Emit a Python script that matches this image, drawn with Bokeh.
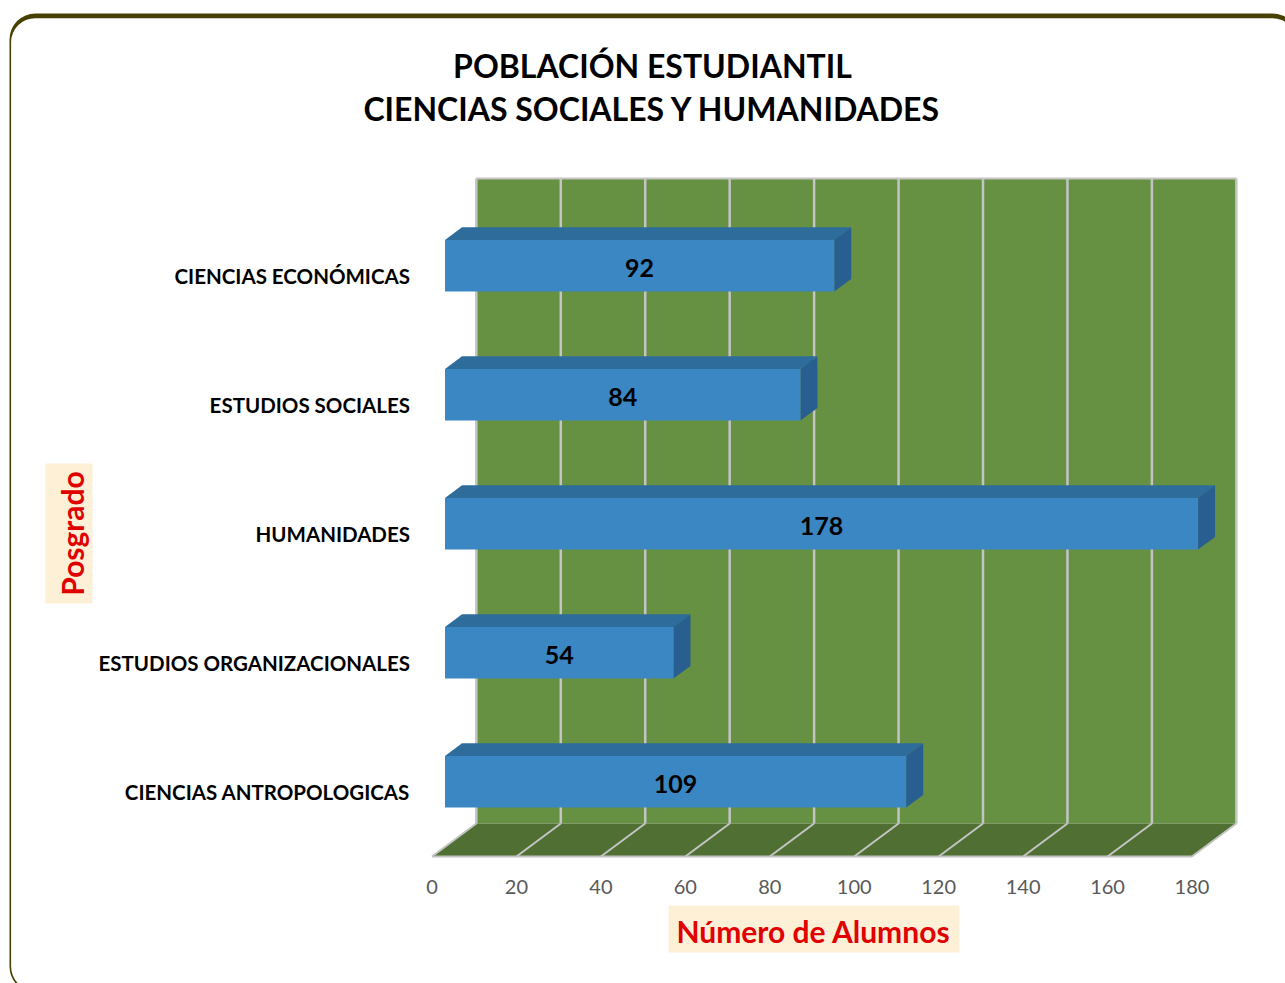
from bokeh.embed import file_html
from bokeh.resources import INLINE
from bokeh.plotting import figure
from bokeh.models import Range1d, FixedTicker, Label, BoxAnnotation, ColumnDataSource
from bokeh.core.properties import value
import math

# ---- data ----
categories = ["CIENCIAS ANTROPOLOGICAS", "ESTUDIOS ORGANIZACIONALES", "HUMANIDADES",
              "ESTUDIOS SOCIALES", "CIENCIAS ECONÓMICAS"]
alumnos = [109, 54, 178, 84, 92]
x_ticks = [0, 20, 40, 60, 80, 100, 120, 140, 160, 180]
title_lines = ["POBLACIÓN ESTUDIANTIL", "CIENCIAS SOCIALES Y HUMANIDADES"]
x_title = "Número de Alumnos"
y_title = "Posgrado"

# ---- 3-D projection (in data units) ----
X_MAX = 180
N = len(categories)
DEPTH_X = 10.5       # wall offset to the right, in value units
DEPTH_Y = 0.256      # wall offset upward, in category bands
BAR_X0 = 3.08        # bar front-left offset
BAR_DX = 4.03        # bar depth
BAR_DY = 0.097
BAR_FRONT = 0.08     # front face centre relative to band centre
BAR_HALF = 0.2
BAR_K = 1.002

FONT = "Lato"
WALL = "#669143"
FLOOR = "#4F6F33"
GRID = "#C4C4C4"
BAR_FACE = "#3A87C3"
BAR_TOP = "#2E6C9C"
BAR_SIDE = "#285F90"
RED = "#E00000"
CREAM = "#FDF0D6"
FRAME = "#484000"

W, H = 1285, 983
# the plot frame fills the canvas; value 0 sits at px 431.5, 180 at px 1191.5; band 0 at py 856, each band 129 px
ORIGIN_X = 431.5
PX_X = 760 / 180
PX_Y = 129
p = figure(width=W, height=H, output_backend="svg", toolbar_location=None,
           x_range=Range1d(-ORIGIN_X / PX_X, (W - ORIGIN_X) / PX_X), y_range=Range1d((856 - H) / PX_Y, 856 / PX_Y),
           min_border_left=0, min_border_right=0, min_border_top=0, min_border_bottom=0,
           background_fill_color="white", border_fill_color="white", outline_line_color=None)
p.grid.visible = False


def box(left, right, top, bottom, color, radius=0, level="underlay"):
    p.add_layout(BoxAnnotation(left=left, right=right, top=H - top, bottom=H - bottom,
                               left_units="screen", right_units="screen", top_units="screen", bottom_units="screen",
                               fill_color=color, fill_alpha=1, line_color=None, border_radius=radius, level=level))


def label(x, y, text, size, color, angle=0.0):
    p.add_layout(Label(x=x, y=H - y, x_units="screen", y_units="screen", text=text, text_font=FONT,
                       text_font_style="bold", text_font_size=size, text_color=color, angle=angle,
                       text_align="center", text_baseline="middle", level="overlay"))


# rounded frame of the slide
box(9, 1298, 13, 992, FRAME, 26)
box(10.6, 1296, 17.7, 990, "white", 24)

# axes
xa = p.xaxis[0]
xa.fixed_location = 0
xa.ticker = FixedTicker(ticks=x_ticks)
xa.axis_line_color = None
xa.major_tick_line_color = None
xa.minor_tick_line_color = None
xa.major_label_text_font = FONT
xa.major_label_text_font_size = "20px"
xa.major_label_text_color = "#595959"
xa.major_label_standoff = 17

ya = p.yaxis[0]
ya.fixed_location = 0
ya.ticker = FixedTicker(ticks=[i + 0.5 for i in range(N)])
ya.major_label_overrides = {i + 0.5: c for i, c in enumerate(categories)}
ya.axis_line_color = None
ya.major_tick_line_color = None
ya.minor_tick_line_color = None
ya.major_label_text_font = FONT
ya.major_label_text_font_style = "bold"
ya.major_label_text_font_size = "20.5px"
ya.major_label_text_color = "black"
ya.major_label_standoff = 16

# wall and floor
p.patch([DEPTH_X, X_MAX + DEPTH_X, X_MAX + DEPTH_X, DEPTH_X],
        [DEPTH_Y, DEPTH_Y, N + DEPTH_Y, N + DEPTH_Y], fill_color=WALL, line_color=None)
p.patch([0, X_MAX, X_MAX + DEPTH_X, DEPTH_X], [0, 0, DEPTH_Y, DEPTH_Y], fill_color=FLOOR, line_color=None)

# gridlines
p.segment(x0=[t + DEPTH_X for t in x_ticks], y0=[DEPTH_Y] * len(x_ticks),
          x1=[t + DEPTH_X for t in x_ticks], y1=[N + DEPTH_Y] * len(x_ticks),
          line_color=GRID, line_width=2.5)
p.segment(x0=x_ticks, y0=[0] * len(x_ticks), x1=[t + DEPTH_X for t in x_ticks], y1=[DEPTH_Y] * len(x_ticks),
          line_color=GRID, line_width=2)
p.segment(x0=[DEPTH_X, 0], y0=[N + DEPTH_Y, 0], x1=[X_MAX + DEPTH_X, X_MAX], y1=[N + DEPTH_Y, 0],
          line_color=GRID, line_width=2)

# 3-D bars
for i, v in enumerate(alumnos):
    yc = i + 0.5 + BAR_FRONT
    y0, y1 = yc - BAR_HALF, yc + BAR_HALF
    x0, x1 = BAR_X0, BAR_X0 + v * BAR_K
    p.patch([x0, x1, x1 + BAR_DX, x0 + BAR_DX], [y1, y1, y1 + BAR_DY, y1 + BAR_DY],
            fill_color=BAR_TOP, line_color=None)
    p.patch([x1, x1 + BAR_DX, x1 + BAR_DX, x1], [y0, y0 + BAR_DY, y1 + BAR_DY, y1],
            fill_color=BAR_SIDE, line_color=None)
    p.patch([x0, x1, x1, x0], [y0, y0, y1, y1], fill_color=BAR_FACE, line_color=None)

# value labels
src = ColumnDataSource(dict(
    x=[BAR_X0 + v * BAR_K / 2 for v in alumnos],
    y=[i + 0.5 + BAR_FRONT - 0.02 for i in range(N)],
    t=[str(v) for v in alumnos]))
p.text("x", "y", text="t", source=src, text_font=value(FONT), text_font_style="bold",
       text_font_size="25px", text_color="black", text_align="center", text_baseline="middle")

# title
label(652, 65, title_lines[0], "32px", "black")
label(652, 108, title_lines[1], "32px", "black")

# axis titles on cream boxes
box(668, 959, 905, 952, CREAM, level="overlay")
box(45, 92, 463, 603, CREAM, level="overlay")
label(813, 930, x_title, "30px", RED)
label(71, 533, y_title, "30px", RED, math.pi / 2)

open("out.html", "w").write(file_html(p, INLINE))
